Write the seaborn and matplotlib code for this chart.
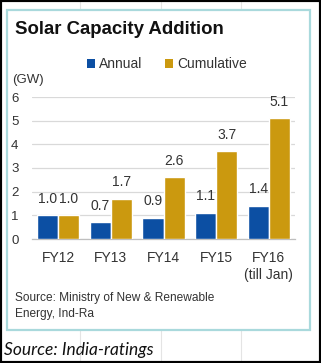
import matplotlib
matplotlib.use("Agg")
import matplotlib.pyplot as plt
import seaborn as sns
import pandas as pd
from matplotlib.patches import Rectangle, Patch
from matplotlib.lines import Line2D

categories = ["FY12", "FY13", "FY14", "FY15", "FY16"]
tick_labels = ["FY12", "FY13", "FY14", "FY15", "FY16\n(till Jan)"]
annual = [1.0, 0.7, 0.9, 1.1, 1.4]
cumulative = [1.0, 1.7, 2.6, 3.7, 5.1]
series = ["Annual", "Cumulative"]
colors = ["#0C4FA3", "#CB990F"]

df = pd.DataFrame({
    "year": categories * 2,
    "series": [series[0]] * len(categories) + [series[1]] * len(categories),
    "value": annual + cumulative,
})

sns.set_theme(style="white")
plt.rcParams["font.family"] = ["Liberation Sans", "DejaVu Sans"]

W, H = 321, 363
fig = plt.figure(figsize=(W / 100, H / 100), dpi=100)
fig.patch.set_facecolor("white")

def fx(px):
    return px / W

def fy(py):
    return 1 - py / H

# faint spreadsheet gridlines in the background
for gx in [80, 161, 241]:
    fig.add_artist(Line2D([fx(gx), fx(gx)], [0, 1], transform=fig.transFigure,
                          color="#E4E4E4", lw=0.8, zorder=0))

# inner panel
fig.add_artist(Rectangle((fx(7), fy(330)), fx(310) - fx(7), fy(10) - fy(330),
                         transform=fig.transFigure, facecolor="white",
                         edgecolor="#A9D9DC", lw=1.6, zorder=1))

ax = fig.add_axes([fx(32), fy(239), fx(295) - fx(32), fy(97) - fy(239)])
ax.set_zorder(2)
ax.patch.set_alpha(0)

sns.barplot(data=df, x="year", y="value", hue="series", palette=colors,
            order=categories, hue_order=series, width=0.8, ax=ax,
            saturation=1, legend=False, zorder=3)

for cont in ax.containers:
    ax.bar_label(cont, fmt="%.1f", padding=7, fontsize=10, color="#333333")

ax.set_ylim(0, 6)
ax.set_xlim(-0.5, 4.5)
ax.set_yticks(range(0, 7))
ax.set_yticklabels([str(i) for i in range(0, 7)])
ax.yaxis.grid(True, color="#D9D9D9", lw=0.9)
ax.set_axisbelow(True)
ax.set_xticks(range(len(categories)))
ax.set_xticklabels(tick_labels, fontsize=10, color="#333333", linespacing=1.25)
ax.set_xticks([i - 0.5 for i in range(len(categories) + 1)], minor=True)
ax.tick_params(axis="x", which="major", length=0, pad=9)
ax.tick_params(axis="x", which="minor", length=4, color="#BFBFBF", width=0.9, direction="out")
ax.tick_params(axis="y", length=0, labelsize=9.5, labelcolor="#333333")
for lab in ax.get_yticklabels():
    lab.set_horizontalalignment("left")
ax.tick_params(axis="y", pad=15)
for s in ["top", "right", "left"]:
    ax.spines[s].set_visible(False)
ax.spines["bottom"].set_color("#BFBFBF")
ax.spines["bottom"].set_linewidth(0.9)
ax.set_xlabel("")
ax.set_ylabel("")

# title
fig.text(fx(15), fy(30), "Solar Capacity Addition", fontsize=13.4, fontweight="bold",
         color="#111111", va="center", ha="left", zorder=5)

# legend
handles = [Patch(facecolor=c, edgecolor="none") for c in colors]
fig.legend(handles, series, loc="center", bbox_to_anchor=(fx(167), fy(64)), ncol=2,
           frameon=False, fontsize=10, handlelength=0.6, handleheight=0.6,
           handletextpad=0.3, columnspacing=1.6, labelcolor="#333333")

fig.text(fx(12), fy(80), "(GW)", fontsize=9.5, color="#333333", va="center", ha="left")

fig.text(fx(15), fy(298), "Source: Ministry of New & Renewable", fontsize=8.6,
         color="#333333", va="center", ha="left")
fig.text(fx(15), fy(314), "Energy, Ind-Ra", fontsize=8.6,
         color="#333333", va="center", ha="left")

fig.text(fx(4), fy(350), "Source: India-ratings", fontsize=12.5, style="italic",
         family=["Lato", "DejaVu Sans"], color="#111111", va="center", ha="left")

# outer black border
fig.add_artist(Rectangle((0, 0), 1, 1, transform=fig.transFigure, fill=False,
                         edgecolor="black", lw=3, zorder=10))

fig.savefig("out.png", dpi=100)
